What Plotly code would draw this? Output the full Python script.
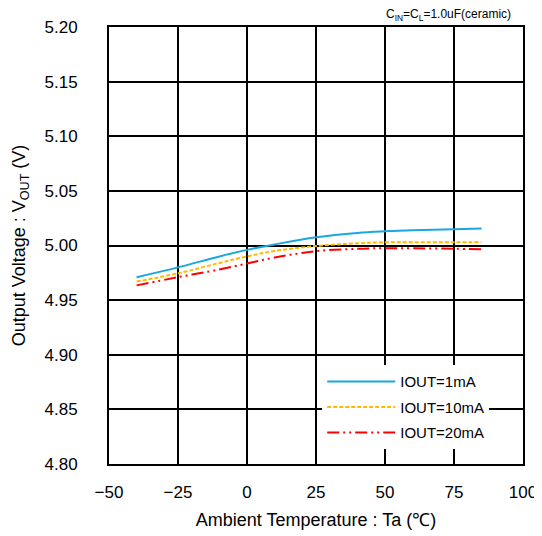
import plotly.graph_objects as go

temp = [-40, -25, -10, 0, 10, 25, 40, 50, 60, 75, 85]
vout_1ma = [4.971, 4.980, 4.990, 4.996, 5.001, 5.0075, 5.0115, 5.013, 5.014, 5.0148, 5.0155]
vout_10ma = [4.967, 4.9745, 4.984, 4.990, 4.995, 4.9995, 5.002, 5.003, 5.003, 5.003, 5.003]
vout_20ma = [4.9635, 4.971, 4.978, 4.9835, 4.989, 4.9948, 4.997, 4.9975, 4.9974, 4.997, 4.9966]

font = "Liberation Sans, Arial, sans-serif"

fig = go.Figure()
fig.add_trace(go.Scatter(x=temp, y=vout_1ma, name="IOUT=1mA", mode="lines", legendgroup="a",
                         line=dict(color="#1aa7e0", width=2, shape="spline")))
fig.add_trace(go.Scatter(x=temp, y=vout_10ma, name="IOUT=10mA", mode="lines", legendgroup="b",
                         line=dict(color="#ffb900", width=2, dash="4px,2px", shape="spline")))
fig.add_trace(go.Scatter(x=temp, y=vout_20ma, name="IOUT=20mA", mode="lines", legendgroup="c",
                         line=dict(color="#ff0000", width=2, dash="12px,4px,2px,4px,2px,4px", shape="spline")))

# page body has an 8px margin, so the figure is a bit smaller than the window
fig.update_layout(
    width=534, height=528,
    margin=dict(l=101, r=19, t=19, b=72),
    plot_bgcolor="white", paper_bgcolor="white",
    font=dict(family=font, color="black", size=17),
    showlegend=True,
    legend=dict(x=0.515, y=0.226, xanchor="left", yanchor="top",
                bgcolor="white", font=dict(size=15), tracegroupgap=3,
                itemwidth=68, entrywidth=185, entrywidthmode="pixels"),
    annotations=[dict(text="C<sub>IN</sub>=C<sub>L</sub>=1.0uF(ceramic)",
                      xref="paper", yref="paper", x=0.975, y=1.005,
                      xanchor="right", yanchor="bottom", showarrow=False,
                      font=dict(size=12))],
)

fig.update_xaxes(
    range=[-50, 100], dtick=25, tick0=-50,
    showgrid=True, gridcolor="black", gridwidth=2,
    showline=True, linecolor="black", linewidth=2, mirror=True,
    ticks="", zeroline=False, automargin=False, ticklabelstandoff=12,
    title=dict(text="Ambient Temperature : Ta (℃)", font=dict(size=18), standoff=12),
    tickfont=dict(size=17),
)
fig.update_yaxes(
    range=[4.80, 5.20], dtick=0.05, tickformat=".2f",
    showgrid=True, gridcolor="black", gridwidth=2,
    showline=True, linecolor="black", linewidth=2, mirror=True,
    ticks="", zeroline=False, automargin=False, ticklabelstandoff=26,
    title=dict(text="Output Voltage : V<sub>OUT</sub> (V)", font=dict(size=18), standoff=14),
    tickfont=dict(size=17),
)

fig.write_html("out.html")
